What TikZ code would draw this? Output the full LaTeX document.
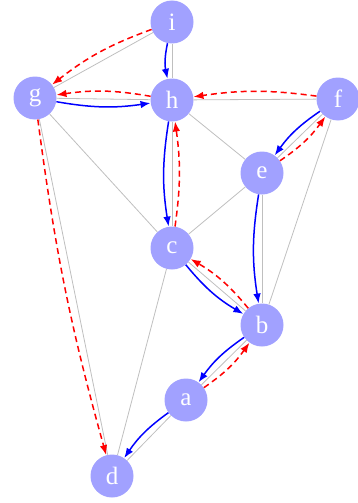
\documentclass[tikz,border=0pt]{standalone}
\usepackage{fontspec}
\setmainfont{Liberation Serif}
\usetikzlibrary{arrows.meta}
\begin{document}
\begin{tikzpicture}[x=1pt,y=-1pt,
    vtx/.style={circle,fill=blue!37,text=white,minimum size=43pt,inner sep=0pt,font=\fontsize{25}{25}\selectfont},
    edge/.style={gray!50,line width=0.8pt},
    tree/.style={blue,line width=1.5pt,-{Latex[length=10pt,width=7.5pt]},bend right=#1},
    tree/.default=9,
    back/.style={red,line width=1.5pt,dash pattern=on 6pt off 4pt,-{Latex[length=10pt,width=7.5pt]},bend right=#1},
    back/.default=9]
    \useasboundingbox (0,0) rectangle (358,503);
    \foreach \n/\x/\y in {i/172/22,g/35/98,h/172/100,f/338/99,e/262/173,c/172/248,b/262/325,a/186/400,d/112/476}
      \node[vtx] (\n) at (\x,\y) {\n};
    \foreach \u/\v in {i/g,i/h,g/h,h/f,h/e,h/c,g/c,g/d,e/c,e/f,e/b,f/b,c/b,c/d,b/a,a/d}
      \draw[edge] (\u) -- (\v);
    \foreach \u/\v/\ang in {i/h/12,g/h/9,h/c/9,f/e/10,e/b/9,c/b/10,b/a/10,a/d/10} \draw[tree=\ang] (\u) to (\v);
    \foreach \u/\v/\ang in {i/g/9,h/g/9,f/h/8,c/h/8,e/f/10,b/c/10,a/b/10,g/d/4} \draw[back=\ang] (\u) to (\v);
\end{tikzpicture}
\end{document}
